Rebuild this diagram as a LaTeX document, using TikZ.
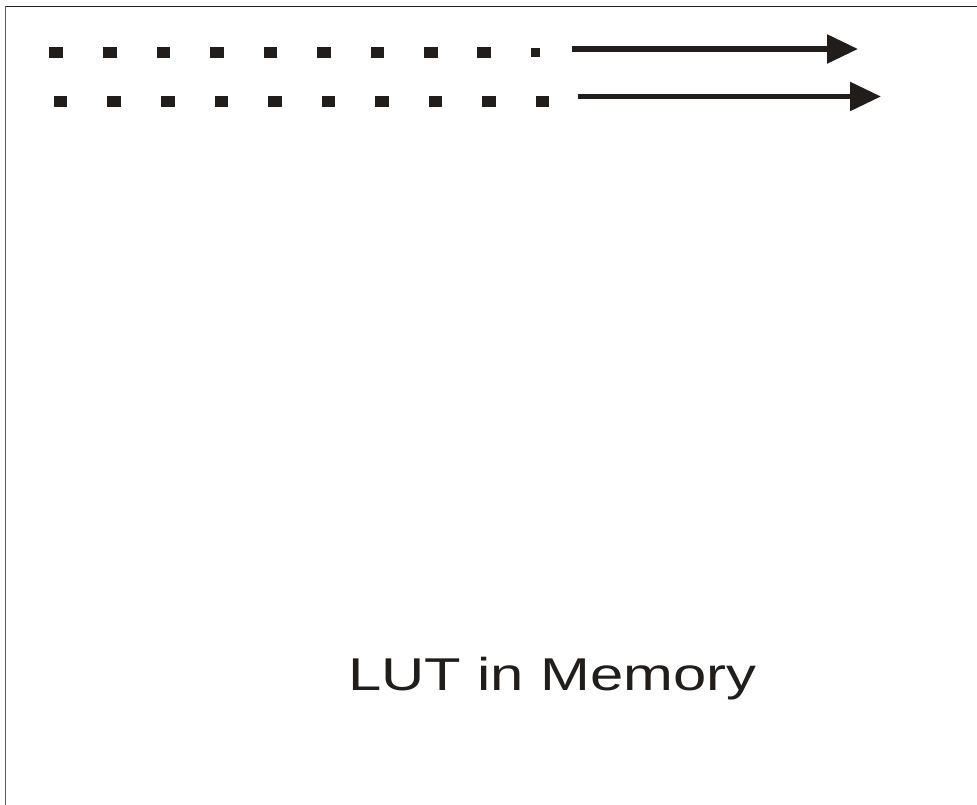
\documentclass[tikz,border=0pt]{standalone}
\usepackage{fontspec}
\setmainfont{Liberation Sans}
\usetikzlibrary{arrows.meta}
\definecolor{ink}{HTML}{211D1A}
\definecolor{frame}{HTML}{5A5A5A}
\begin{document}
\begin{tikzpicture}[x=1pt,y=-1pt,
  dot/.style={rectangle,fill=ink,inner sep=0pt,minimum width=13.5pt,minimum height=11pt},
  flow/.style={draw=ink,line width=5.5pt,-{Triangle[length=31pt,width=28pt]}}]
  \useasboundingbox (0,0) rectangle (977,805);
  % frame edges
  \draw[ink,line width=1.4pt] (4.8,6.6) -- (977,6.6);
  \draw[frame,line width=1.2pt] (5.6,6) -- (5.6,805);
  % upper row of cells
  \foreach \i/\x in {1/56,2/110,3/163.5,4/217,5/270.5,6/324,7/377.5,8/431,9/484}
    \node[dot] (a\i) at (\x,52.5) {};
  \node[dot,minimum width=9.5pt,minimum height=9.5pt] (a10) at (535.5,52.5) {};
  % lower row of cells
  \foreach \i/\x in {1/60.5,2/114,3/168,4/221.5,5/275,6/328.5,7/382,8/435.5,9/489,10/542.5}
    \node[dot] (b\i) at (\x,101.5) {};
  % arrows
  \coordinate (s1) at (572,49);
  \coordinate (e1) at (858,49);
  \coordinate (s2) at (578,96.5);
  \coordinate (e2) at (881,96.5);
  \draw[flow] (s1) -- (e1);
  \draw[flow] (s2) -- (e2);
  % caption
  \node[anchor=base,inner sep=0pt,text=ink,font=\fontsize{46pt}{52pt}\selectfont] (cap) at (552.5,690)
    {\scalebox{1.3}[1]{LUT in Memory}};
\end{tikzpicture}
\end{document}
